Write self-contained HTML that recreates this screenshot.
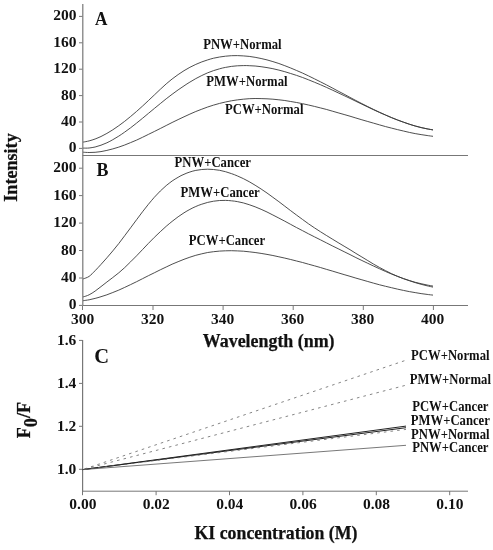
<!DOCTYPE html>
<html><head><meta charset="utf-8"><title>Figure</title>
<style>html,body{margin:0;padding:0;background:#fff}svg{display:block}text{font-family:"Liberation Serif",serif;font-weight:bold;fill:#111}</style></head><body>
<svg width="493" height="550" viewBox="0 0 493 550">
<rect width="493" height="550" fill="#fff"/>
<g stroke="#777" stroke-width="1" fill="none" shape-rendering="crispEdges">
<path d="M82.8 4V155.5" shape-rendering="auto" stroke-width="1.2"/><path d="M82.5 155.5H468"/>
<path d="M79 148.4H82.5" shape-rendering="auto"/>
<path d="M79 122.0H82.5" shape-rendering="auto"/>
<path d="M79 95.6H82.5" shape-rendering="auto"/>
<path d="M79 69.2H82.5" shape-rendering="auto"/>
<path d="M79 42.8H82.5" shape-rendering="auto"/>
<path d="M79 16.4H82.5" shape-rendering="auto"/>
<path d="M82.8 155V305.5" shape-rendering="auto" stroke-width="1.2"/><path d="M82.5 305.5H468"/>
<path d="M79 305.4H82.5" shape-rendering="auto"/>
<path d="M79 278.0H82.5" shape-rendering="auto"/>
<path d="M79 250.5H82.5" shape-rendering="auto"/>
<path d="M79 223.1H82.5" shape-rendering="auto"/>
<path d="M79 195.6H82.5" shape-rendering="auto"/>
<path d="M79 168.2H82.5" shape-rendering="auto"/>
<path d="M82.5 305.5V310" shape-rendering="auto"/>
<path d="M153.0 305.5V310" shape-rendering="auto"/>
<path d="M223.1 305.5V310" shape-rendering="auto"/>
<path d="M293.2 305.5V310" shape-rendering="auto"/>
<path d="M363.3 305.5V310" shape-rendering="auto"/>
<path d="M433.4 305.5V310" shape-rendering="auto"/>
<path d="M82.6 340V491.5" shape-rendering="auto" stroke-width="1.2"/><path shape-rendering="auto" d="M82 491.2H468"/>
<path d="M79 469.3H82.5" shape-rendering="auto"/>
<path d="M79 426.3H82.5" shape-rendering="auto"/>
<path d="M79 383.4H82.5" shape-rendering="auto"/>
<path d="M79 340.4H82.5" shape-rendering="auto"/>
<path d="M82.5 491V495.2" shape-rendering="auto"/>
<path d="M156.1 491V495.2" shape-rendering="auto"/>
<path d="M229.5 491V495.2" shape-rendering="auto"/>
<path d="M302.9 491V495.2" shape-rendering="auto"/>
<path d="M376.3 491V495.2" shape-rendering="auto"/>
<path d="M449.7 491V495.2" shape-rendering="auto"/>
</g>
<g stroke="#3a3a3a" stroke-width="0.9" fill="none">
<path d="M83.2 142.1C84.2 141.9 87.2 141.4 89.1 140.9C91.1 140.4 93.1 139.7 95.1 139.0C97.0 138.3 99.0 137.4 101.0 136.5C103.0 135.5 104.9 134.5 106.9 133.4C108.9 132.3 110.9 131.1 112.8 129.8C114.8 128.5 116.8 127.1 118.8 125.7C120.7 124.3 122.7 122.8 124.7 121.3C126.7 119.7 128.7 118.1 130.6 116.5C132.6 114.8 134.6 113.1 136.6 111.4C138.5 109.7 140.5 107.9 142.5 106.1C144.5 104.3 146.4 102.4 148.4 100.6C150.4 98.7 152.4 96.8 154.3 95.0C156.3 93.1 158.3 91.1 160.3 89.3C162.3 87.5 164.2 85.6 166.2 83.9C168.2 82.2 170.2 80.6 172.1 79.0C174.1 77.5 176.1 76.0 178.1 74.6C180.0 73.2 182.0 71.9 184.0 70.7C186.0 69.5 187.9 68.4 189.9 67.3C191.9 66.3 193.9 65.3 195.8 64.4C197.8 63.5 199.8 62.7 201.8 61.9C203.8 61.2 205.7 60.5 207.7 59.9C209.7 59.2 211.7 58.7 213.6 58.2C215.6 57.8 217.6 57.4 219.6 57.0C221.5 56.7 223.5 56.4 225.5 56.2C227.5 56.0 229.4 55.8 231.4 55.7C233.4 55.6 235.4 55.6 237.3 55.6C239.3 55.7 241.3 55.7 243.3 55.9C245.3 56.0 247.2 56.2 249.2 56.4C251.2 56.7 253.2 57.0 255.1 57.3C257.1 57.7 259.1 58.0 261.1 58.5C263.0 58.9 265.0 59.4 267.0 59.9C269.0 60.4 270.9 61.0 272.9 61.6C274.9 62.2 276.9 62.8 278.9 63.5C280.8 64.2 282.8 64.9 284.8 65.7C286.8 66.4 288.7 67.2 290.7 68.0C292.7 68.8 294.7 69.6 296.6 70.5C298.6 71.3 300.6 72.2 302.6 73.1C304.5 74.0 306.5 74.9 308.5 75.9C310.5 76.8 312.4 77.8 314.4 78.8C316.4 79.8 318.4 80.7 320.4 81.8C322.3 82.8 324.3 83.8 326.3 84.8C328.3 85.8 330.2 86.9 332.2 87.9C334.2 89.0 336.2 90.0 338.1 91.1C340.1 92.1 342.1 93.2 344.1 94.2C346.0 95.3 348.0 96.3 350.0 97.4C352.0 98.4 353.9 99.5 355.9 100.5C357.9 101.5 359.9 102.6 361.9 103.6C363.8 104.6 365.8 105.6 367.8 106.6C369.8 107.6 371.7 108.6 373.7 109.5C375.7 110.5 377.7 111.4 379.6 112.3C381.6 113.3 383.6 114.2 385.6 115.0C387.5 115.9 389.5 116.8 391.5 117.6C393.5 118.4 395.5 119.2 397.4 120.0C399.4 120.8 401.4 121.5 403.4 122.2C405.3 122.9 407.3 123.6 409.3 124.2C411.3 124.9 413.2 125.5 415.2 126.0C417.2 126.6 419.2 127.1 421.1 127.6C423.1 128.0 425.1 128.5 427.1 128.8C429.0 129.2 432.0 129.7 433.0 129.9"/>
<path d="M83.2 148.1C84.2 148.1 87.2 148.2 89.1 148.0C91.1 147.8 93.1 147.4 95.1 147.0C97.0 146.5 99.0 145.9 101.0 145.2C103.0 144.5 104.9 143.7 106.9 142.8C108.9 141.9 110.9 140.8 112.8 139.7C114.8 138.6 116.8 137.4 118.8 136.1C120.7 134.9 122.7 133.5 124.7 132.1C126.7 130.7 128.7 129.3 130.6 127.8C132.6 126.3 134.6 124.7 136.6 123.1C138.5 121.6 140.5 119.9 142.5 118.3C144.5 116.7 146.4 115.0 148.4 113.4C150.4 111.7 152.4 110.1 154.3 108.5C156.3 106.8 158.3 105.2 160.3 103.6C162.3 102.0 164.2 100.4 166.2 98.8C168.2 97.3 170.2 95.7 172.1 94.3C174.1 92.8 176.1 91.3 178.1 89.9C180.0 88.5 182.0 87.2 184.0 85.9C186.0 84.5 187.9 83.3 189.9 82.1C191.9 80.9 193.9 79.7 195.8 78.6C197.8 77.5 199.8 76.5 201.8 75.5C203.8 74.6 205.7 73.7 207.7 72.8C209.7 72.0 211.7 71.3 213.6 70.6C215.6 69.9 217.6 69.3 219.6 68.8C221.5 68.2 223.5 67.8 225.5 67.4C227.5 67.0 229.4 66.7 231.4 66.4C233.4 66.1 235.4 66.0 237.3 65.8C239.3 65.7 241.3 65.6 243.3 65.6C245.3 65.5 247.2 65.6 249.2 65.7C251.2 65.7 253.2 65.9 255.1 66.0C257.1 66.2 259.1 66.4 261.1 66.7C263.0 66.9 265.0 67.2 267.0 67.6C269.0 67.9 270.9 68.3 272.9 68.7C274.9 69.1 276.9 69.6 278.9 70.1C280.8 70.6 282.8 71.1 284.8 71.7C286.8 72.2 288.7 72.8 290.7 73.5C292.7 74.1 294.7 74.7 296.6 75.4C298.6 76.1 300.6 76.8 302.6 77.5C304.5 78.3 306.5 79.0 308.5 79.8C310.5 80.6 312.4 81.4 314.4 82.2C316.4 83.0 318.4 83.9 320.4 84.7C322.3 85.6 324.3 86.4 326.3 87.3C328.3 88.2 330.2 89.1 332.2 90.0C334.2 90.9 336.2 91.9 338.1 92.8C340.1 93.7 342.1 94.6 344.1 95.6C346.0 96.5 348.0 97.5 350.0 98.4C352.0 99.4 353.9 100.3 355.9 101.3C357.9 102.2 359.9 103.2 361.9 104.2C363.8 105.1 365.8 106.0 367.8 107.0C369.8 107.9 371.7 108.8 373.7 109.8C375.7 110.7 377.7 111.6 379.6 112.5C381.6 113.4 383.6 114.2 385.6 115.1C387.5 115.9 389.5 116.8 391.5 117.6C393.5 118.4 395.5 119.2 397.4 119.9C399.4 120.7 401.4 121.4 403.4 122.1C405.3 122.8 407.3 123.5 409.3 124.2C411.3 124.8 413.2 125.4 415.2 126.0C417.2 126.5 419.2 127.1 421.1 127.5C423.1 128.0 425.1 128.5 427.1 128.9C429.0 129.3 432.0 129.7 433.0 129.9"/>
<path d="M83.2 152.2C84.2 152.3 87.2 152.5 89.1 152.5C91.1 152.5 93.1 152.4 95.1 152.3C97.0 152.1 99.0 151.9 101.0 151.6C103.0 151.3 104.9 150.9 106.9 150.4C108.9 150.0 110.9 149.5 112.8 148.9C114.8 148.4 116.8 147.8 118.8 147.1C120.7 146.5 122.7 145.7 124.7 145.0C126.7 144.3 128.7 143.5 130.6 142.6C132.6 141.8 134.6 140.9 136.6 140.1C138.5 139.2 140.5 138.2 142.5 137.3C144.5 136.4 146.4 135.4 148.4 134.4C150.4 133.5 152.4 132.5 154.3 131.5C156.3 130.5 158.3 129.5 160.3 128.5C162.3 127.5 164.2 126.5 166.2 125.5C168.2 124.5 170.2 123.5 172.1 122.5C174.1 121.6 176.1 120.6 178.1 119.6C180.0 118.7 182.0 117.7 184.0 116.8C186.0 115.9 187.9 115.0 189.9 114.1C191.9 113.2 193.9 112.4 195.8 111.5C197.8 110.7 199.8 109.9 201.8 109.2C203.8 108.4 205.7 107.7 207.7 107.0C209.7 106.4 211.7 105.7 213.6 105.1C215.6 104.5 217.6 104.0 219.6 103.4C221.5 102.9 223.5 102.4 225.5 102.0C227.5 101.5 229.4 101.1 231.4 100.8C233.4 100.4 235.4 100.1 237.3 99.9C239.3 99.6 241.3 99.4 243.3 99.2C245.3 99.0 247.2 98.9 249.2 98.7C251.2 98.6 253.2 98.6 255.1 98.5C257.1 98.5 259.1 98.5 261.1 98.6C263.0 98.6 265.0 98.7 267.0 98.8C269.0 98.9 270.9 99.0 272.9 99.2C274.9 99.4 276.9 99.6 278.9 99.8C280.8 100.0 282.8 100.3 284.8 100.5C286.8 100.8 288.7 101.1 290.7 101.5C292.7 101.8 294.7 102.1 296.6 102.5C298.6 102.9 300.6 103.3 302.6 103.7C304.5 104.1 306.5 104.5 308.5 105.0C310.5 105.4 312.4 105.9 314.4 106.4C316.4 106.9 318.4 107.4 320.4 107.9C322.3 108.4 324.3 108.9 326.3 109.4C328.3 110.0 330.2 110.5 332.2 111.1C334.2 111.6 336.2 112.2 338.1 112.8C340.1 113.3 342.1 113.9 344.1 114.5C346.0 115.1 348.0 115.6 350.0 116.2C352.0 116.8 353.9 117.4 355.9 118.0C357.9 118.6 359.9 119.2 361.9 119.8C363.8 120.3 365.8 120.9 367.8 121.5C369.8 122.1 371.7 122.7 373.7 123.2C375.7 123.8 377.7 124.4 379.6 124.9C381.6 125.5 383.6 126.0 385.6 126.6C387.5 127.1 389.5 127.6 391.5 128.1C393.5 128.7 395.5 129.2 397.4 129.6C399.4 130.1 401.4 130.6 403.4 131.0C405.3 131.5 407.3 131.9 409.3 132.4C411.3 132.8 413.2 133.2 415.2 133.6C417.2 133.9 419.2 134.3 421.1 134.6C423.1 135.0 425.1 135.3 427.1 135.5C429.0 135.8 432.0 136.2 433.0 136.3"/>
<path d="M83.2 278.9C84.2 278.5 87.2 277.7 89.1 276.4C91.1 275.0 93.1 272.7 95.1 270.7C97.0 268.8 99.0 266.6 101.0 264.4C103.0 262.3 104.9 260.1 106.9 257.8C108.9 255.6 110.9 253.3 112.8 250.9C114.8 248.5 116.8 246.0 118.8 243.5C120.7 241.0 122.7 238.4 124.7 235.7C126.7 233.1 128.7 230.4 130.6 227.8C132.6 225.1 134.6 222.4 136.6 219.7C138.5 217.1 140.5 214.4 142.5 211.8C144.5 209.3 146.4 206.7 148.4 204.3C150.4 201.9 152.4 199.5 154.3 197.3C156.3 195.1 158.3 193.0 160.3 191.0C162.3 189.1 164.2 187.3 166.2 185.6C168.2 184.0 170.2 182.4 172.1 181.0C174.1 179.7 176.1 178.4 178.1 177.3C180.0 176.1 182.0 175.1 184.0 174.3C186.0 173.4 187.9 172.6 189.9 172.0C191.9 171.3 193.9 170.8 195.8 170.4C197.8 170.0 199.8 169.7 201.8 169.5C203.8 169.3 205.7 169.2 207.7 169.2C209.7 169.2 211.7 169.3 213.6 169.5C215.6 169.7 217.6 170.0 219.6 170.3C221.5 170.7 223.5 171.2 225.5 171.7C227.5 172.3 229.4 172.9 231.4 173.6C233.4 174.3 235.4 175.0 237.3 175.9C239.3 176.7 241.3 177.6 243.3 178.6C245.3 179.6 247.2 180.6 249.2 181.7C251.2 182.8 253.2 184.0 255.1 185.2C257.1 186.4 259.1 187.7 261.1 189.0C263.0 190.3 265.0 191.6 267.0 193.0C269.0 194.4 270.9 195.8 272.9 197.3C274.9 198.7 276.9 200.2 278.9 201.7C280.8 203.2 282.8 204.7 284.8 206.2C286.8 207.7 288.7 209.2 290.7 210.7C292.7 212.2 294.7 213.7 296.6 215.1C298.6 216.6 300.6 218.1 302.6 219.5C304.5 221.0 306.5 222.4 308.5 223.8C310.5 225.1 312.4 226.5 314.4 227.8C316.4 229.1 318.4 230.4 320.4 231.7C322.3 232.9 324.3 234.2 326.3 235.4C328.3 236.6 330.2 237.8 332.2 239.0C334.2 240.2 336.2 241.4 338.1 242.6C340.1 243.8 342.1 245.0 344.1 246.2C346.0 247.4 348.0 248.5 350.0 249.7C352.0 250.9 353.9 252.2 355.9 253.4C357.9 254.6 359.9 255.8 361.9 257.0C363.8 258.2 365.8 259.4 367.8 260.6C369.8 261.8 371.7 263.0 373.7 264.2C375.7 265.3 377.7 266.5 379.6 267.5C381.6 268.6 383.6 269.7 385.6 270.7C387.5 271.7 389.5 272.7 391.5 273.7C393.5 274.6 395.5 275.5 397.4 276.3C399.4 277.1 401.4 277.8 403.4 278.6C405.3 279.3 407.3 279.9 409.3 280.5C411.3 281.2 413.2 281.7 415.2 282.3C417.2 282.8 419.2 283.3 421.1 283.7C423.1 284.2 425.1 284.6 427.1 285.0C429.0 285.4 432.0 285.9 433.0 286.1"/>
<path d="M83.2 296.9C84.2 296.6 87.2 295.8 89.1 294.8C91.1 293.8 93.1 292.5 95.1 291.1C97.0 289.7 99.0 288.1 101.0 286.6C103.0 285.1 104.9 283.5 106.9 282.0C108.9 280.4 110.9 279.0 112.8 277.5C114.8 275.9 116.8 274.4 118.8 272.8C120.7 271.1 122.7 269.4 124.7 267.6C126.7 265.7 128.7 263.8 130.6 261.8C132.6 259.9 134.6 257.8 136.6 255.8C138.5 253.7 140.5 251.6 142.5 249.6C144.5 247.5 146.4 245.4 148.4 243.4C150.4 241.3 152.4 239.3 154.3 237.4C156.3 235.4 158.3 233.5 160.3 231.7C162.3 229.8 164.2 228.0 166.2 226.3C168.2 224.6 170.2 222.9 172.1 221.4C174.1 219.8 176.1 218.3 178.1 216.8C180.0 215.4 182.0 214.1 184.0 212.8C186.0 211.6 187.9 210.4 189.9 209.4C191.9 208.3 193.9 207.3 195.8 206.5C197.8 205.6 199.8 204.8 201.8 204.2C203.8 203.5 205.7 202.9 207.7 202.4C209.7 201.9 211.7 201.5 213.6 201.2C215.6 200.9 217.6 200.7 219.6 200.5C221.5 200.4 223.5 200.4 225.5 200.4C227.5 200.4 229.4 200.6 231.4 200.8C233.4 201.0 235.4 201.2 237.3 201.6C239.3 202.0 241.3 202.4 243.3 202.9C245.3 203.4 247.2 204.0 249.2 204.7C251.2 205.3 253.2 206.1 255.1 206.8C257.1 207.6 259.1 208.4 261.1 209.3C263.0 210.2 265.0 211.1 267.0 212.0C269.0 213.0 270.9 214.0 272.9 215.0C274.9 216.0 276.9 217.0 278.9 218.1C280.8 219.1 282.8 220.2 284.8 221.2C286.8 222.3 288.7 223.4 290.7 224.4C292.7 225.5 294.7 226.6 296.6 227.6C298.6 228.6 300.6 229.7 302.6 230.7C304.5 231.7 306.5 232.8 308.5 233.8C310.5 234.8 312.4 235.8 314.4 236.8C316.4 237.8 318.4 238.8 320.4 239.8C322.3 240.8 324.3 241.8 326.3 242.8C328.3 243.8 330.2 244.8 332.2 245.8C334.2 246.7 336.2 247.7 338.1 248.7C340.1 249.7 342.1 250.7 344.1 251.7C346.0 252.7 348.0 253.6 350.0 254.6C352.0 255.6 353.9 256.6 355.9 257.6C357.9 258.5 359.9 259.5 361.9 260.5C363.8 261.4 365.8 262.4 367.8 263.3C369.8 264.3 371.7 265.2 373.7 266.1C375.7 267.0 377.7 267.9 379.6 268.8C381.6 269.7 383.6 270.6 385.6 271.5C387.5 272.3 389.5 273.1 391.5 274.0C393.5 274.8 395.5 275.6 397.4 276.3C399.4 277.1 401.4 277.9 403.4 278.6C405.3 279.3 407.3 280.0 409.3 280.7C411.3 281.3 413.2 282.0 415.2 282.6C417.2 283.2 419.2 283.8 421.1 284.3C423.1 284.8 425.1 285.3 427.1 285.8C429.0 286.3 432.0 286.9 433.0 287.1"/>
<path d="M83.2 300.7C84.2 300.6 87.2 300.1 89.1 299.8C91.1 299.4 93.1 298.9 95.1 298.4C97.0 297.9 99.0 297.4 101.0 296.7C103.0 296.1 104.9 295.5 106.9 294.8C108.9 294.1 110.9 293.3 112.8 292.5C114.8 291.7 116.8 290.9 118.8 290.1C120.7 289.2 122.7 288.3 124.7 287.4C126.7 286.5 128.7 285.6 130.6 284.6C132.6 283.7 134.6 282.7 136.6 281.7C138.5 280.7 140.5 279.7 142.5 278.7C144.5 277.7 146.4 276.7 148.4 275.7C150.4 274.7 152.4 273.7 154.3 272.8C156.3 271.8 158.3 270.8 160.3 269.8C162.3 268.8 164.2 267.9 166.2 267.0C168.2 266.0 170.2 265.1 172.1 264.2C174.1 263.3 176.1 262.5 178.1 261.7C180.0 260.8 182.0 260.0 184.0 259.3C186.0 258.5 187.9 257.8 189.9 257.2C191.9 256.5 193.9 255.9 195.8 255.3C197.8 254.7 199.8 254.2 201.8 253.8C203.8 253.3 205.7 252.9 207.7 252.5C209.7 252.2 211.7 251.9 213.6 251.7C215.6 251.4 217.6 251.2 219.6 251.1C221.5 250.9 223.5 250.8 225.5 250.8C227.5 250.7 229.4 250.7 231.4 250.7C233.4 250.7 235.4 250.8 237.3 250.9C239.3 251.0 241.3 251.1 243.3 251.2C245.3 251.4 247.2 251.6 249.2 251.8C251.2 252.0 253.2 252.3 255.1 252.5C257.1 252.8 259.1 253.1 261.1 253.4C263.0 253.7 265.0 254.1 267.0 254.4C269.0 254.8 270.9 255.1 272.9 255.5C274.9 255.9 276.9 256.3 278.9 256.8C280.8 257.2 282.8 257.6 284.8 258.1C286.8 258.5 288.7 259.0 290.7 259.5C292.7 260.0 294.7 260.5 296.6 261.0C298.6 261.5 300.6 262.0 302.6 262.5C304.5 263.1 306.5 263.6 308.5 264.2C310.5 264.7 312.4 265.3 314.4 265.8C316.4 266.4 318.4 267.0 320.4 267.5C322.3 268.1 324.3 268.7 326.3 269.3C328.3 269.9 330.2 270.4 332.2 271.0C334.2 271.6 336.2 272.2 338.1 272.8C340.1 273.4 342.1 274.0 344.1 274.6C346.0 275.2 348.0 275.8 350.0 276.3C352.0 276.9 353.9 277.5 355.9 278.1C357.9 278.7 359.9 279.3 361.9 279.8C363.8 280.4 365.8 281.0 367.8 281.5C369.8 282.1 371.7 282.6 373.7 283.2C375.7 283.7 377.7 284.2 379.6 284.8C381.6 285.3 383.6 285.8 385.6 286.3C387.5 286.8 389.5 287.3 391.5 287.7C393.5 288.2 395.5 288.7 397.4 289.1C399.4 289.6 401.4 290.0 403.4 290.4C405.3 290.8 407.3 291.2 409.3 291.6C411.3 292.0 413.2 292.3 415.2 292.6C417.2 293.0 419.2 293.3 421.1 293.6C423.1 293.9 425.1 294.2 427.1 294.4C429.0 294.7 432.0 295.0 433.0 295.1"/>
<path d="M82.7 469.6L406.0 426.1" stroke-width="1.0" stroke="#222"/>
<path d="M82.7 469.6L406.0 427.7" stroke-width="1.0" stroke="#222"/>
<path d="M82.7 469.6L406.0 445.3" stroke-width="0.8" stroke="#555"/>
<path d="M82.7 469.6L406.0 360.2" stroke-dasharray="2.6 4.1" stroke-dashoffset="-2" stroke-width="0.8" stroke="#666"/>
<path d="M82.7 469.6L406.0 385.2" stroke-dasharray="2.6 4.1" stroke-dashoffset="-2" stroke-width="0.8" stroke="#666"/>
<path d="M82.7 469.6L406.0 429.4" stroke-dasharray="2.6 4.1" stroke-dashoffset="-2" stroke-width="0.8" stroke="#666"/>
</g>
<g font-size="15.5" text-anchor="end">
<text x="76.4" y="152.4">0</text>
<text x="76.4" y="126.0">40</text>
<text x="76.4" y="99.6">80</text>
<text x="76.4" y="73.2">120</text>
<text x="76.4" y="46.8">160</text>
<text x="76.4" y="20.4">200</text>
<text x="76.4" y="309.4">0</text>
<text x="76.4" y="282.0">40</text>
<text x="76.4" y="254.5">80</text>
<text x="76.4" y="227.1">120</text>
<text x="76.4" y="199.6">160</text>
<text x="76.4" y="172.2">200</text>
<text x="76.3" y="473.7">1.0</text>
<text x="76.3" y="430.7">1.2</text>
<text x="76.3" y="387.8">1.4</text>
<text x="76.3" y="344.8">1.6</text>
</g>
<g font-size="15.5" text-anchor="middle">
<text x="82.7" y="324.3">300</text>
<text x="152.7" y="324.3">320</text>
<text x="222.7" y="324.3">340</text>
<text x="292.7" y="324.3">360</text>
<text x="362.7" y="324.3">380</text>
<text x="432.7" y="324.3">400</text>
<text x="82.9" y="509.1">0.00</text>
<text x="156.3" y="509.1">0.02</text>
<text x="229.7" y="509.1">0.04</text>
<text x="303.1" y="509.1">0.06</text>
<text x="376.5" y="509.1">0.08</text>
<text x="449.9" y="509.1">0.10</text>
</g>
<g font-size="17.5">
<text transform="translate(95 24.5) scale(1 1.08)" font-size="17.2">A</text>
<text transform="translate(96.4 176.4) scale(1 1.05)" font-size="17.9">B</text>
<text transform="translate(94.3 363)" font-size="20.5">C</text>
<text x="268.7" y="346.6" text-anchor="middle" font-size="17.9" stroke="#111" stroke-width="0.25">Wavelength (nm)</text>
<text x="276" y="538.5" text-anchor="middle" font-size="17.8" stroke="#111" stroke-width="0.25">KI concentration (M)</text>
<text transform="translate(17.4 167.5) rotate(-90) scale(1 1.04)" text-anchor="middle" font-size="18.1" stroke="#111" stroke-width="0.25">Intensity</text>
<text transform="translate(30.4 438.3) rotate(-90)" font-size="18.2" stroke="#111" stroke-width="0.25">F<tspan dy="6.5">0</tspan><tspan dy="-6.5">/F</tspan></text>
</g>
<g font-size="12.7">
<text transform="translate(203.2 49.0) scale(1 1.10)" text-anchor="start">PNW+Normal</text>
<text transform="translate(206.3 85.8) scale(1 1.10)" text-anchor="start">PMW+Normal</text>
<text transform="translate(225.0 113.9) scale(1 1.10)" text-anchor="start">PCW+Normal</text>
<text transform="translate(174.6 167.3) scale(1 1.10)" text-anchor="start">PNW+Cancer</text>
<text transform="translate(180.6 196.6) scale(1 1.10)" text-anchor="start">PMW+Cancer</text>
<text transform="translate(188.8 245.0) scale(1 1.10)" text-anchor="start">PCW+Cancer</text>
<text transform="translate(450.3 360.2) scale(1 1.10)" text-anchor="middle">PCW+Normal</text>
<text transform="translate(450.3 383.9) scale(1 1.10)" text-anchor="middle">PMW+Normal</text>
<text transform="translate(450.3 411.4) scale(1 1.10)" text-anchor="middle">PCW+Cancer</text>
<text transform="translate(450.3 425.2) scale(1 1.10)" text-anchor="middle">PMW+Cancer</text>
<text transform="translate(450.3 438.5) scale(1 1.10)" text-anchor="middle">PNW+Normal</text>
<text transform="translate(450.3 452.1) scale(1 1.10)" text-anchor="middle">PNW+Cancer</text>
</g>
</svg></body></html>
